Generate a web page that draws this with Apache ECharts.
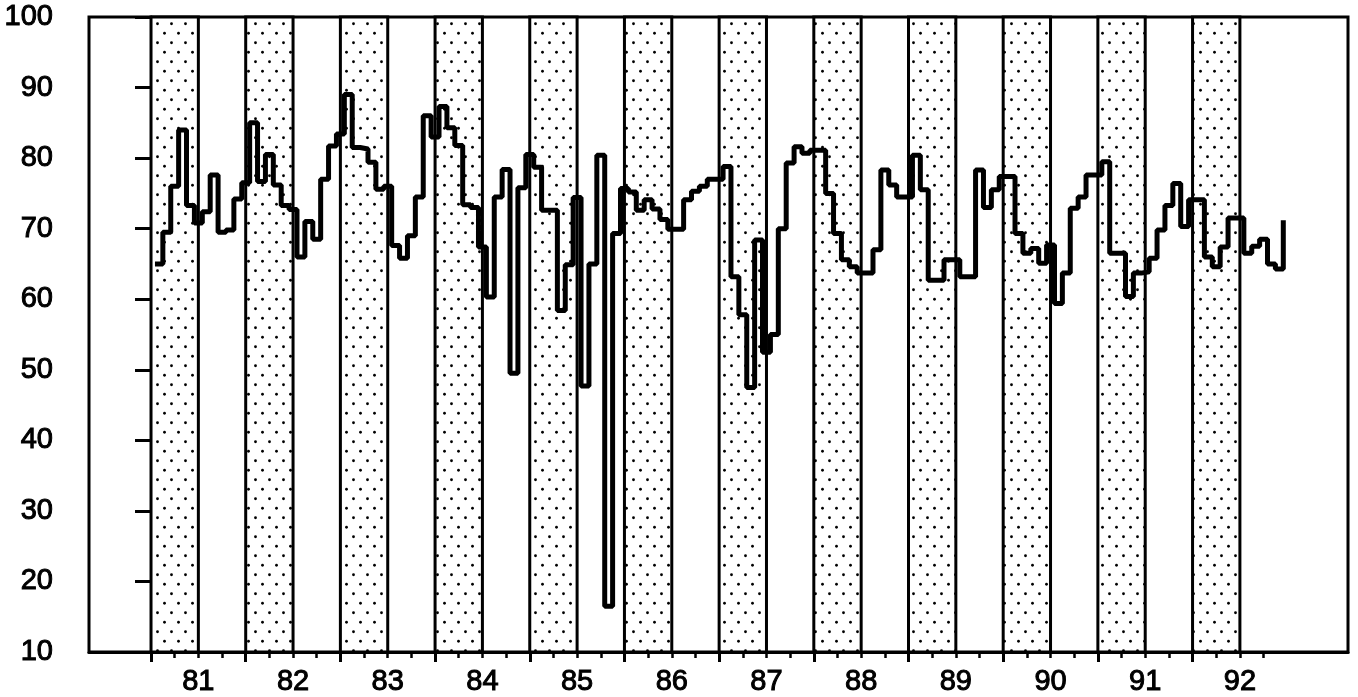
<!DOCTYPE html>
<html>
<head>
<meta charset="utf-8">
<script src="https://cdn.jsdelivr.net/npm/echarts@6/dist/echarts.min.js"></script>
<style>
  html, body { margin: 0; padding: 0; background: #fff; }
  #chart { width: 1358px; height: 697px; }
</style>
</head>
<body>
<div id="chart"></div>
<script>
// Year labels along the bottom axis
const yearLabels = ['81', '82', '83', '84', '85', '86', '87', '88', '89', '90', '91', '92'];

// Monthly readings, one row per year
const year81 = [65, 69.5, 76, 84, 73.3, 70.8, 72.4, 77.6, 69.5, 69.8, 74.2, 76.5];
const year82 = [85, 76.7, 80.5, 76.2, 73.3, 72.7, 66, 71, 68.5, 77, 81.7, 83.4];
const year83 = [89, 81.5, 81.3, 79.4, 75.6, 76, 67.6, 65.8, 69, 74.5, 86, 83];
const year84 = [87.3, 84.3, 81.8, 73.4, 73, 67.4, 60.3, 74.5, 78.4, 49.5, 75.8, 80.5];
const year85 = [78.7, 72.6, 72.6, 58.4, 64.9, 74.4, 47.7, 65, 80.4, 16.5, 69.3, 75.7];
const year86 = [75.2, 72.6, 74.1, 72.8, 71.3, 69.9, 69.9, 74.1, 75.3, 76, 77, 77];
const year87 = [78.8, 63.2, 57.8, 47.5, 68.4, 52.5, 55, 70, 79.3, 81.6, 80.7, 81.1];
const year88 = [81.1, 75, 69.3, 65.6, 64.6, 63.7, 63.7, 67, 78.3, 76.2, 74.5, 74.5];
const year89 = [80.4, 75.5, 62.7, 62.7, 65.6, 65.6, 63.2, 63.2, 78.3, 73, 75.5, 77.4];
const year90 = [77.4, 69.3, 66.5, 67.2, 65.1, 67.7, 59.4, 63.7, 72.9, 74.5, 77.6, 77.6];
const year91 = [79.5, 66.5, 66.5, 60.4, 63.7, 63.9, 65.8, 69.8, 73.3, 76.4, 70.3, 74.1];
const year92 = [74.1, 66, 64.6, 67.4, 71.5, 71.5, 66.5, 67.5, 68.5, 65, 64.3, 71.2];

// Value axis
const yMin = 10, yMax = 100, yStep = 10;

// Shaded part of each year (months from the year start)
const shadedMonths = 6;

const monthly = [].concat(year81, year82, year83, year84, year85, year86,
                          year87, year88, year89, year90, year91, year92);

// Horizontal axis is measured in months from the start of '81
const X_MIN = -7.86, X_MAX = 151.7;

const minorTicks = [];
for (let m = 0; m <= 141; m += 3) minorTicks.push(m);
const majorTicks = yearLabels.map((_, i) => i * 12);
const labelPos = yearLabels.map((_, i) => i * 12 + 6);

// Stippled fill for the shaded half-years
function dotPattern() {
  const c = document.createElement('canvas');
  c.width = 14; c.height = 19;
  const g = c.getContext('2d');
  g.fillStyle = '#fff';
  g.fillRect(0, 0, c.width, c.height);
  g.fillStyle = '#000';
  [[3.5, 4.75], [10.5, 14.25]].forEach(([x, y]) => {
    g.beginPath();
    g.arc(x, y, 1.4, 0, Math.PI * 2);
    g.fill();
  });
  return c;
}

const font = 'Liberation Sans, Arial, Helvetica, sans-serif';
const labelText = {
  fontSize: 29, color: '#000', fontFamily: font,
  textBorderColor: '#000', textBorderWidth: 1
};

const chart = echarts.init(document.getElementById('chart'), null, { renderer: 'canvas' });
chart.setOption({
  animation: false,
  backgroundColor: '#fff',
  grid: {
    left: 89, right: 10, top: 17, bottom: 45,
    show: true, borderColor: '#000', borderWidth: 3, backgroundColor: 'transparent'
  },
  xAxis: [
    {
      type: 'value', min: X_MIN, max: X_MAX, position: 'bottom',
      axisLine: { show: true, lineStyle: { color: '#000', width: 3 } },
      axisTick: { show: true, customValues: minorTicks, length: 6, lineStyle: { color: '#000', width: 2.5 } },
      axisLabel: { show: false },
      splitLine: { show: false }
    },
    {
      type: 'value', min: X_MIN, max: X_MAX, position: 'bottom',
      axisLine: { show: false },
      axisTick: { show: true, customValues: majorTicks, length: 10, lineStyle: { color: '#000', width: 3 } },
      axisLabel: Object.assign({
        show: true, customValues: labelPos, margin: 15,
        formatter: v => yearLabels[Math.round((v - 6) / 12)]
      }, labelText),
      splitLine: { show: false }
    }
  ],
  yAxis: {
    type: 'value', min: yMin, max: yMax, interval: yStep,
    axisLine: { show: true, lineStyle: { color: '#000', width: 3 } },
    axisTick: { show: true, length: 16, lineStyle: { color: '#000', width: 3 } },
    axisLabel: Object.assign({ margin: 36, padding: [6, 0, 0, 0] }, labelText),
    splitLine: { show: false }
  },
  series: [{
    type: 'line',
    xAxisIndex: 0,
    step: 'end',
    showSymbol: false,
    data: monthly.map((v, i) => [i + 0.5, v]),
    lineStyle: { color: '#000', width: 5 },
    z: 5,
    markArea: {
      silent: true,
      itemStyle: {
        color: { image: dotPattern(), repeat: 'repeat' },
        borderColor: '#000', borderWidth: 3
      },
      data: yearLabels.map((_, i) => [{ xAxis: i * 12 }, { xAxis: i * 12 + shadedMonths }])
    }
  }]
});
</script>
</body>
</html>
